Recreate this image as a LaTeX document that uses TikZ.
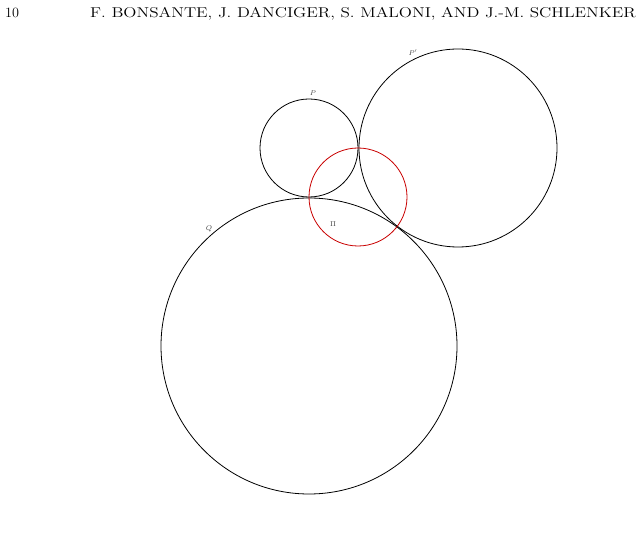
\documentclass[tikz,border=0pt]{standalone}
\usepackage{tikz}
\usetikzlibrary{positioning}

\definecolor{piRed}{RGB}{200,0,0}

\tikzset{
    circ/.style={line width=0.8pt, black},
    lbl/.style={inner sep=0pt, font=\fontsize{7}{8}\selectfont, text=black!75},
    head/.style={inner sep=0pt, anchor=base west, font=\fontsize{14.2}{16}\selectfont}
}

\begin{document}
\begin{tikzpicture}[x=1pt, y=-1pt]
    \useasboundingbox (0,0) rectangle (643,534);
    \node[head] (pagenum) at (5,18) {10};
    \node[head] (runhead) at (90,18) {\scalebox{1.215}[1]{F. BONSANTE, J. DANCIGER, S. MALONI, AND J.-M. SCHLENKER}};

    \coordinate (cP) at (309,148);
    \coordinate (cPp) at (458,148);
    \coordinate (cPi) at (358,197);
    \coordinate (cQ) at (309,346);

    \draw[circ] (cP) circle (49);
    \draw[circ] (cPp) circle (99);
    \draw[circ] (cQ) circle (148);
    \draw[circ, piRed] (cPi) circle (49);

    \node[lbl] (lP) at (313,93) {$P$};
    \node[lbl] (lPp) at (413,53) {$P'$};
    \node[lbl] (lQ) at (209,229) {$Q$};
    \node[lbl] (lPi) at (333,224) {$\Pi$};
\end{tikzpicture}
\end{document}
